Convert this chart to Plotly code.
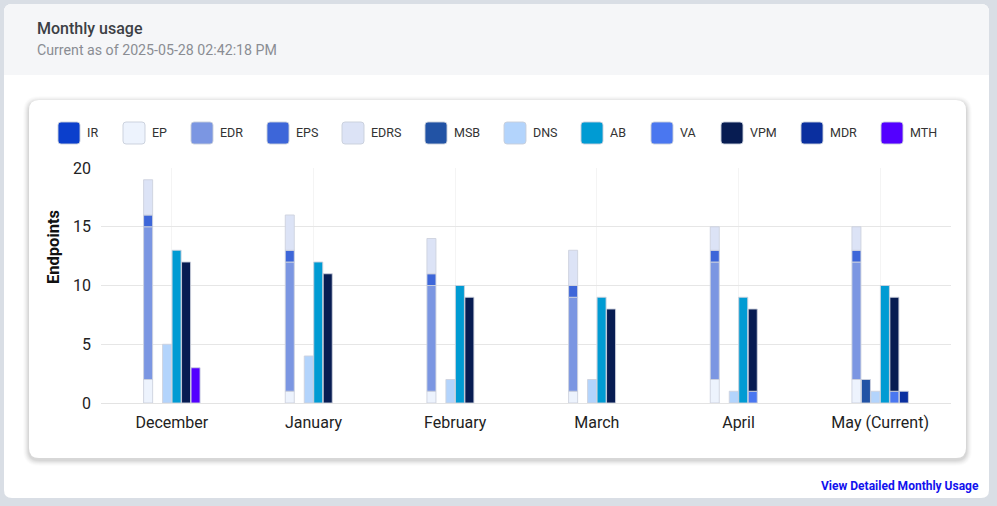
import plotly.graph_objects as go

# ---------------- data ----------------
months = ["December", "January", "February", "March", "April", "May (Current)"]
series_names = ["IR", "EP", "EDR", "EPS", "EDRS", "MSB", "DNS", "AB", "VA", "VPM", "MDR", "MTH"]

IR = [0, 0, 0, 0, 0, 0]
EP = [2, 1, 1, 1, 2, 2]
EDR = [13, 11, 9, 8, 10, 10]
EPS = [1, 1, 1, 1, 1, 1]
EDRS = [3, 3, 3, 3, 2, 2]
MSB = [0, 0, 0, 0, 0, 2]
DNS = [5, 4, 2, 2, 1, 1]
AB = [13, 12, 10, 9, 9, 10]
VA = [0, 0, 0, 0, 1, 1]
VPM = [12, 11, 9, 8, 7, 8]
MDR = [0, 0, 0, 0, 0, 1]
MTH = [3, 0, 0, 0, 0, 0]

values = {"IR": IR, "EP": EP, "EDR": EDR, "EPS": EPS, "EDRS": EDRS, "MSB": MSB,
          "DNS": DNS, "AB": AB, "VA": VA, "VPM": VPM, "MDR": MDR, "MTH": MTH}

# stack membership (bottom -> top)
stacks = [["IR", "EP", "EDR", "EPS", "EDRS"], ["MSB"], ["DNS"], ["AB"], ["VA", "VPM"], ["MDR", "MTH"]]

colors = {"IR": "#0B3FCC", "EP": "#EDF3FD", "EDR": "#7B96E2", "EPS": "#3D66D9",
          "EDRS": "#DCE3F6", "MSB": "#2253A5", "DNS": "#B3D4FC", "AB": "#009BD3",
          "VA": "#4A77F0", "VPM": "#071C52", "MDR": "#0A2F9F", "MTH": "#5300FF"}

# ---------------- geometry helpers (styling only) ----------------
W, H = 997, 506
L, R, T, B = 101, 951, 168, 403


def px(x):
    return (x - L) / (R - L)


def py(y):
    return (B - y) / (B - T)


def rounded(x0, y0, x1, y1, r, top_only=False):
    X0, X1 = px(x0), px(x1)
    Y0, Y1 = py(y0), py(y1)
    rx = r / (R - L)
    ry = r / (B - T)
    if top_only:
        return (f"M{X0},{Y1} L{X0},{Y0 - ry} Q{X0},{Y0} {X0 + rx},{Y0} "
                f"L{X1 - rx},{Y0} Q{X1},{Y0} {X1},{Y0 - ry} L{X1},{Y1} Z")
    return (f"M{X0 + rx},{Y0} L{X1 - rx},{Y0} Q{X1},{Y0} {X1},{Y0 - ry} "
            f"L{X1},{Y1 + ry} Q{X1},{Y1} {X1 - rx},{Y1} L{X0 + rx},{Y1} "
            f"Q{X0},{Y1} {X0},{Y1 + ry} L{X0},{Y0 - ry} Q{X0},{Y0} {X0 + rx},{Y0} Z")


fig = go.Figure()

# ---------------- bars ----------------
for gi, stack in enumerate(stacks):
    base = [0] * len(months)
    for name in stack:
        vals = values[name]
        fig.add_trace(go.Bar(
            x=months, y=[v if v else None for v in vals], base=list(base), name=name,
            offsetgroup=str(gi),
            marker=dict(color=colors[name], line=dict(color="rgba(205,210,222,0.9)", width=1)),
            showlegend=False,
        ))
        base = [b + v for b, v in zip(base, vals)]

shapes = []
# outer card
shapes.append(dict(type="path", path=rounded(4, 4, 989, 498, 8), xref="paper", yref="paper",
                   fillcolor="#FFFFFF", line=dict(width=0), layer="below"))
shapes.append(dict(type="path", path=rounded(4, 4, 989, 75, 8, top_only=True), xref="paper", yref="paper",
                   fillcolor="#F5F6F8", line=dict(width=0), layer="below"))
# inner card shadow (soft)
for i, a in enumerate([0.012, 0.018, 0.024, 0.03, 0.036, 0.04]):
    g = 6 - i
    shapes.append(dict(type="path", path=rounded(29 - g, 100 - g + 2, 966 + g, 458 + g + 2, 10 + g),
                       xref="paper", yref="paper", fillcolor=f"rgba(0,0,0,{a})",
                       line=dict(width=0), layer="below"))
shapes.append(dict(type="path", path=rounded(29, 100, 966, 458, 10), xref="paper", yref="paper",
                   fillcolor="#FFFFFF", line=dict(width=0), layer="below"))

annotations = []
annotations.append(dict(text="Monthly usage", x=px(35), y=py(28), xref="paper", yref="paper",
                        xanchor="left", yanchor="middle", showarrow=False,
                        font=dict(family="Roboto", size=16, color="#3C3F45", weight=500)))
annotations.append(dict(text="Current as of 2025-05-28 02:42:18 PM", x=px(35), y=py(50),
                        xref="paper", yref="paper", xanchor="left", yanchor="middle", showarrow=False,
                        font=dict(family="Roboto", size=14.2, color="#8A8D93")))
annotations.append(dict(text="<b>View Detailed Monthly Usage</b>", x=px(981), y=py(486),
                        xref="paper", yref="paper", xanchor="right", yanchor="middle", showarrow=False,
                        font=dict(family="Roboto", size=12, color="#1212EE")))
annotations.append(dict(text="<b>Endpoints</b>", x=px(53), y=py(247), xref="paper", yref="paper",
                        xanchor="center", yanchor="middle", showarrow=False, textangle=-90,
                        font=dict(family="Roboto", size=16.5, color="#111111")))

# custom legend
legend_left = [58, 123, 191, 267, 342, 425, 504, 581, 651, 721, 801, 881]
for name, lx in zip(series_names, legend_left):
    shapes.append(dict(type="path", path=rounded(lx, 122, lx + 22, 144, 3), xref="paper", yref="paper",
                       fillcolor=colors[name], line=dict(color="rgba(200,206,218,0.9)", width=1),
                       layer="above"))
    annotations.append(dict(text=name, x=px(lx + 27), y=py(133), xref="paper", yref="paper",
                            xanchor="left", yanchor="middle", showarrow=False,
                            font=dict(family="Roboto", size=12.5, color="#333333")))

fig.update_layout(
    width=W, height=H,
    margin=dict(l=L, r=W - R, t=T, b=H - B, pad=0),
    paper_bgcolor="#D9DEE5",
    plot_bgcolor="rgba(0,0,0,0)",
    barmode="group",
    bargap=0.598,
    bargroupgap=0.05,
    shapes=shapes,
    annotations=annotations,
    font=dict(family="Roboto", color="#222222"),
    xaxis=dict(
        showgrid=True, gridcolor="#F4F4F4", gridwidth=1,
        zeroline=False, showline=False, ticks="",
        tickfont=dict(family="Roboto", size=16, color="#222222"),
        ticklabelstandoff=8,
    ),
    yaxis=dict(
        range=[0, 20], tickvals=[0, 5, 10, 15, 20],
        showgrid=True, gridcolor="#E6E6E6", gridwidth=1,
        zeroline=True, zerolinecolor="#E3E3E3", zerolinewidth=1,
        showline=False, ticks="",
        tickfont=dict(family="Roboto", size=16, color="#222222"),
        ticklabelstandoff=9,
    ),
)

fig.write_html("out.html")
